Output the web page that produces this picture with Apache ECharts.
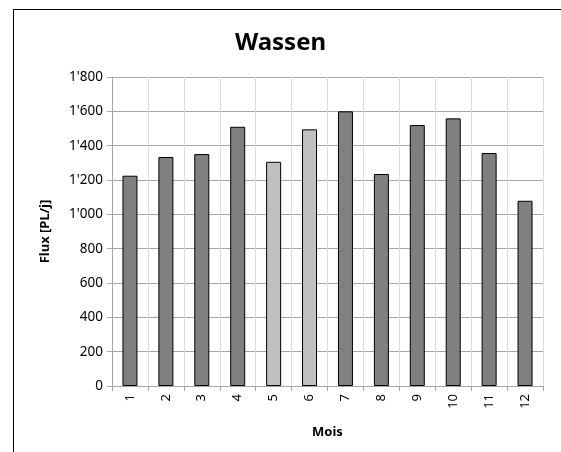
<!DOCTYPE html>
<html>
<head>
<meta charset="utf-8">
<script src="https://cdn.jsdelivr.net/npm/echarts@6/dist/echarts.min.js"></script>
<style>
html, body { margin: 0; padding: 0; background: #fff; }
#main { width: 561px; height: 452px; }
</style>
</head>
<body>
<div id="main"></div>
<script>
var chart = echarts.init(document.getElementById('main'));

var months = ['1', '2', '3', '4', '5', '6', '7', '8', '9', '10', '11', '12'];
var flux = [1225, 1334, 1351, 1510, 1306, 1495, 1600, 1235, 1520, 1559, 1357, 1079];
// mois en gris clair
var lightMonths = ['5', '6'];

var font = 'Noto Sans';

var option = {
    backgroundColor: '#fff',
    animation: false,
    title: {
        text: 'Wassen',
        left: 'center',
        top: 26,
        textStyle: { fontFamily: font, fontSize: 24, fontWeight: 'bold', color: '#000' }
    },
    graphic: [
        { type: 'line', shape: { x1: 13, y1: 9.5, x2: 561, y2: 9.5 }, style: { stroke: '#000', lineWidth: 1 } },
        { type: 'line', shape: { x1: 13.5, y1: 9, x2: 13.5, y2: 452 }, style: { stroke: '#000', lineWidth: 1 } }
    ],
    grid: { left: 112, right: 18, top: 77, bottom: 66 },
    xAxis: {
        type: 'category',
        data: months,
        name: 'Mois',
        nameLocation: 'middle',
        nameGap: 40,
        nameTextStyle: { fontFamily: font, fontSize: 13, fontWeight: 'bold', color: '#000' },
        axisLine: { lineStyle: { color: '#a6a6a6' } },
        axisTick: { show: true, length: 5, lineStyle: { color: '#a6a6a6' } },
        axisLabel: { rotate: 90, fontFamily: font, fontSize: 13, color: '#000', margin: 8 },
        splitLine: { show: true, lineStyle: { color: '#dcdcdc' } }
    },
    yAxis: {
        type: 'value',
        min: 0,
        max: 1800,
        interval: 200,
        name: 'Flux [PL/j]',
        nameLocation: 'middle',
        nameGap: 60,
        nameTextStyle: { fontFamily: font, fontSize: 13, fontWeight: 'bold', color: '#000' },
        axisLine: { show: true, lineStyle: { color: '#a6a6a6' } },
        axisTick: { show: true, length: 5, lineStyle: { color: '#a6a6a6' } },
        axisLabel: {
            fontFamily: font, fontSize: 13.5, color: '#000', margin: 9,
            formatter: function (v) {
                return String(v).replace(/\B(?=(\d{3})+(?!\d))/g, "'");
            }
        },
        splitLine: { lineStyle: { color: '#a6a6a6' } }
    },
    series: [{
        type: 'bar',
        barWidth: 15,
        data: flux.map(function (v, i) {
            return {
                value: v,
                itemStyle: { color: lightMonths.indexOf(months[i]) >= 0 ? '#c0c0c0' : '#808080' }
            };
        }),
        itemStyle: { borderColor: '#000', borderWidth: 1 }
    }]
};

chart.setOption(option);
</script>
</body>
</html>
